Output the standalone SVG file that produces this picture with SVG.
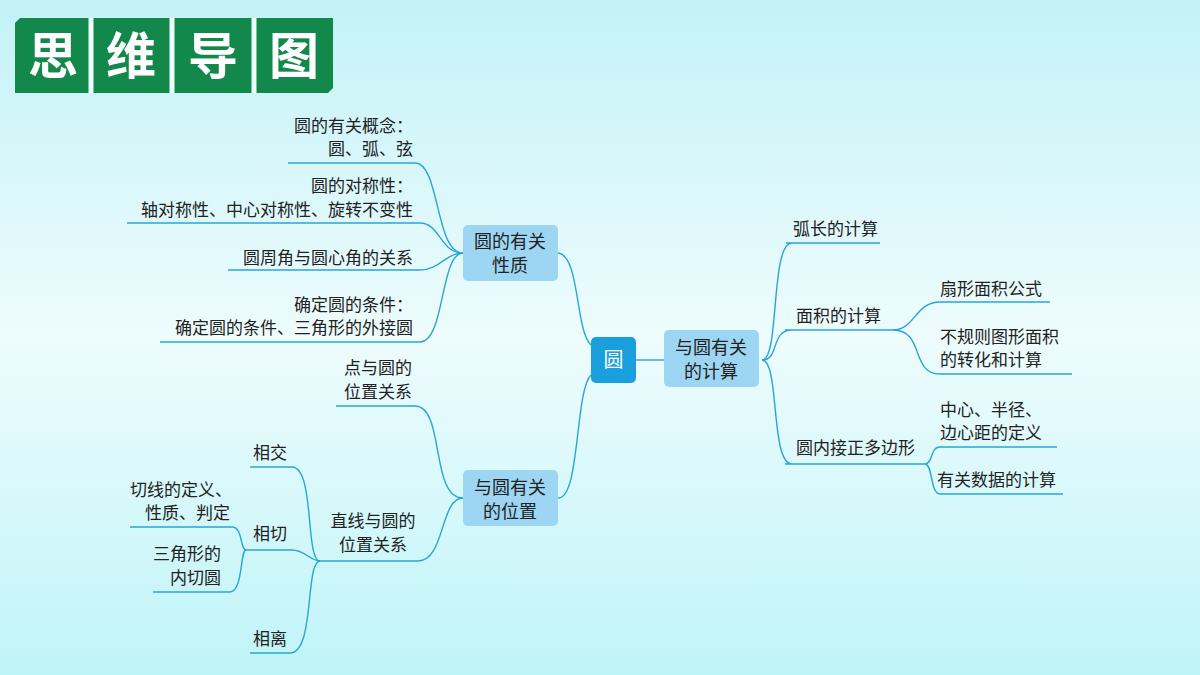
<svg xmlns="http://www.w3.org/2000/svg" width="1200" height="675" viewBox="0 0 1200 675">
<defs>
<linearGradient id="bg" x1="0" y1="0" x2="0" y2="1">
<stop offset="0" stop-color="#c3f2f7"/>
<stop offset="0.5" stop-color="#eefcfd"/>
<stop offset="1" stop-color="#bff4f8"/>
</linearGradient>
<style>
text{font-family:"Noto Sans CJK SC","Liberation Sans",sans-serif;fill:#222;font-size:17px}
.t{fill:#fff;font-size:50px;font-weight:bold}
.c path{fill:none;stroke:#29a6d6;stroke-width:1.4}
.n{fill:#9dd6f2}
.nt{font-size:18px;text-anchor:middle}
.r{text-anchor:end}
.m{text-anchor:middle}
</style>
</defs>
<rect width="1200" height="675" fill="url(#bg)"/>
<g id="title">
<path d="M20,18 H333 V88 L328,93 H15 V23 Z" fill="#12884a"/>
<path d="M91,18 V93 M172,18 V93 M254,18 V93" stroke="#eefcfd" stroke-width="5"/>
<text class="t" x="53" y="74" text-anchor="middle">思</text>
<text class="t" x="131" y="74" text-anchor="middle">维</text>
<text class="t" x="213" y="74" text-anchor="middle">导</text>
<text class="t" x="294" y="74" text-anchor="middle">图</text>
</g>
<g class="c">
<path d="M636,360 H664"/>
<path d="M591,345 C575,330 580,255 558,253"/>
<path d="M591,375 C575,390 580,500 558,498"/>
<path d="M288,163 H415 C440,163 435,253 463,253"/>
<path d="M127,223 H420 C440,223 440,253 463,253"/>
<path d="M228,270 H420 C440,270 445,253 463,253"/>
<path d="M160,342 H420 C445,342 440,253 463,253"/>
<path d="M336,406 H415 C445,406 430,498 463,498"/>
<path d="M318,561 H418 C445,561 440,498 463,498"/>
<path d="M250,467 H292 C315,467 305,561 320,561"/>
<path d="M246,550 H292 C305,550 310,561 320,561"/>
<path d="M250,653 H290 C315,653 305,561 320,561"/>
<path d="M130,527 H232 C243,527 240,550 246,550"/>
<path d="M153,592 H230 C243,592 240,550 246,550"/>
<path d="M786,243 H880 M762,360 C780,360 770,243 792,243"/>
<path d="M785,330 H893 M762,360 C780,360 770,330 792,330"/>
<path d="M785,464 H925 M762,360 C780,360 770,464 792,464"/>
<path d="M893,330 C915,330 915,302 940,302 H1050"/>
<path d="M893,330 C925,330 910,374 940,374 H1072"/>
<path d="M925,464 C933,464 930,447 940,447 H1057"/>
<path d="M925,464 C933,464 930,494 940,494 H1063"/>
</g>
<g id="center"><rect x="591" y="337" width="45" height="46" rx="5" fill="#19a0dc"/><text class="nt" x="613.5" y="367" style="fill:#fff;font-size:20px">圆</text></g>
<g id="calc"><rect class="n" x="664" y="330" width="95" height="57" rx="5"/><text class="nt" x="711" y="354">与圆有关</text><text class="nt" x="711" y="378">的计算</text></g>
<g id="prop"><rect class="n" x="463" y="225" width="95" height="56" rx="5"/><text class="nt" x="510" y="248">圆的有关</text><text class="nt" x="510" y="272">性质</text></g>
<g id="pos"><rect class="n" x="463" y="470" width="95" height="56" rx="5"/><text class="nt" x="510" y="494">与圆有关</text><text class="nt" x="510" y="518">的位置</text></g>
<g id="p1"><text class="r" x="413" y="132">圆的有关概念：</text><text class="r" x="413" y="155">圆、弧、弦</text></g>
<g id="p2"><text class="r" x="413" y="192">圆的对称性：</text><text class="r" x="413" y="216">轴对称性、中心对称性、旋转不变性</text></g>
<g id="p3"><text class="r" x="413" y="264">圆周角与圆心角的关系</text></g>
<g id="p4"><text class="r" x="413" y="311">确定圆的条件：</text><text class="r" x="413" y="334">确定圆的条件、三角形的外接圆</text></g>
<g id="q1"><text class="m" x="378" y="374">点与圆的</text><text class="m" x="378" y="398">位置关系</text></g>
<g id="q2"><text class="m" x="373" y="527">直线与圆的</text><text class="m" x="373" y="551">位置关系</text></g>
<g id="q3"><text x="253" y="459">相交</text></g>
<g id="q4"><text x="253" y="540">相切</text></g>
<g id="q5"><text x="253" y="645">相离</text></g>
<g id="q6"><text class="r" x="232" y="496">切线的定义、</text><text class="r" x="230" y="519">性质、判定</text></g>
<g id="q7"><text class="r" x="221" y="560">三角形的</text><text class="r" x="221" y="584">内切圆</text></g>
<g id="r1"><text x="793" y="235">弧长的计算</text></g>
<g id="r2"><text x="796" y="322">面积的计算</text></g>
<g id="r3"><text x="796" y="454">圆内接正多边形</text></g>
<g id="r4"><text x="940" y="295">扇形面积公式</text></g>
<g id="r5"><text x="940" y="343">不规则图形面积</text><text x="940" y="366">的转化和计算</text></g>
<g id="r6"><text x="940" y="416">中心、半径、</text><text x="940" y="439">边心距的定义</text></g>
<g id="r7"><text x="937" y="486">有关数据的计算</text></g>
</svg>
